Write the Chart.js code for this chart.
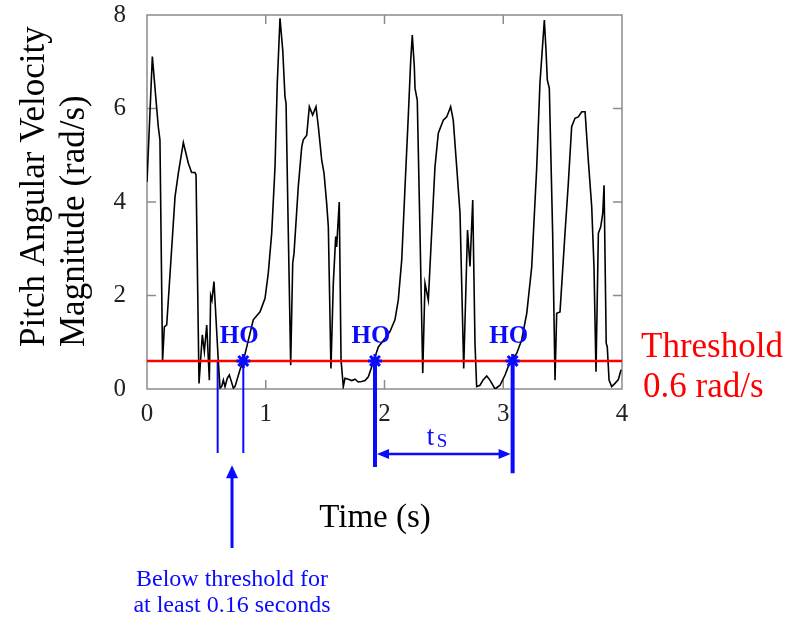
<!DOCTYPE html>
<html>
<head>
<meta charset="utf-8">
<script src="https://cdn.jsdelivr.net/npm/chart.js@4/dist/chart.umd.min.js"></script>
<style>
  html, body { margin: 0; padding: 0; background: #fff; }
  #wrap { width: 788px; height: 624px; }
</style>
</head>
<body>
<div id="wrap"><canvas id="chart" width="788" height="624"></canvas></div>
<script>
// pitch angular velocity trace
var timeS = [
  0.000, 0.045, 0.095, 0.109, 0.131, 0.146, 0.166, 0.236, 0.264, 0.306,
  0.348, 0.376, 0.404, 0.413, 0.438, 0.466, 0.483, 0.503, 0.525, 0.536,
  0.547, 0.564, 0.600, 0.615, 0.629, 0.643, 0.657, 0.676, 0.693, 0.707,
  0.727, 0.741, 0.783, 0.811, 0.840, 0.895, 0.952, 0.994, 1.021, 1.050,
  1.078, 1.097, 1.120, 1.143, 1.162, 1.171, 1.190, 1.210, 1.227, 1.238,
  1.274, 1.303, 1.316, 1.345, 1.367, 1.395, 1.423, 1.443, 1.471, 1.491,
  1.513, 1.527, 1.549, 1.569, 1.589, 1.597, 1.619, 1.634, 1.653, 1.667,
  1.695, 1.724, 1.752, 1.779, 1.808, 1.836, 1.864, 1.906, 1.948, 2.004,
  2.046, 2.088, 2.116, 2.145, 2.173, 2.200, 2.221, 2.234, 2.251, 2.257,
  2.276, 2.299, 2.322, 2.341, 2.369, 2.397, 2.425, 2.453, 2.495, 2.524,
  2.557, 2.579, 2.608, 2.636, 2.667, 2.699, 2.720, 2.743, 2.762, 2.776,
  2.804, 2.832, 2.861, 2.888, 2.931, 2.973, 3.015, 3.057, 3.113, 3.155,
  3.198, 3.240, 3.282, 3.309, 3.346, 3.360, 3.371, 3.388, 3.416, 3.436,
  3.450, 3.478, 3.520, 3.548, 3.576, 3.604, 3.632, 3.661, 3.689, 3.716,
  3.745, 3.764, 3.781, 3.801, 3.821, 3.838, 3.849, 3.867, 3.876, 3.891,
  3.913, 3.941, 3.969, 3.992
];
var pitchVel = [
  4.43, 7.11, 5.61, 5.33, 0.60, 1.33, 1.37, 4.11, 4.62, 5.27,
  4.83, 4.63, 4.63, 4.58, 0.12, 1.16, 0.80, 1.37, 0.19, 2.00,
  1.90, 2.30, 0.62, 0.02, 0.05, 0.19, 0.05, 0.23, 0.30, 0.19,
  0.02, 0.05, 0.41, 0.60, 0.90, 1.48, 1.65, 1.94, 2.47, 3.33,
  4.75, 6.54, 7.93, 7.25, 6.25, 6.11, 3.33, 0.51, 2.69, 2.90,
  4.33, 5.18, 5.33, 5.43, 6.04, 5.86, 6.04, 5.61, 4.90, 4.61,
  3.97, 3.47, 0.44, 2.26, 3.26, 3.04, 4.00, 0.62, 0.05, 0.23,
  0.21, 0.18, 0.21, 0.15, 0.16, 0.18, 0.26, 0.58, 0.90, 1.08,
  1.23, 1.48, 1.90, 2.76, 4.33, 5.82, 7.04, 7.57, 6.90, 6.43,
  6.18, 3.33, 0.34, 2.26, 1.90, 3.33, 4.75, 5.47, 5.75, 5.82,
  6.04, 5.75, 4.75, 3.76, 0.44, 3.40, 2.62, 4.04, 0.98, 0.05,
  0.08, 0.20, 0.28, 0.19, 0.00, 0.08, 0.30, 0.58, 0.76, 1.05,
  1.62, 2.62, 4.75, 6.54, 7.89, 7.25, 6.61, 6.43, 3.33, 0.19,
  1.62, 1.65, 3.33, 4.40, 5.61, 5.79, 5.82, 5.93, 5.93, 4.90,
  3.90, 2.62, 0.37, 3.33, 3.47, 3.76, 4.36, 0.98, 0.90, 0.19,
  0.05, 0.12, 0.20, 0.41
];

var threshold = 0.6;
var hoTimes = [0.811, 1.92, 3.079];   // heel-off instants
var belowStart = 0.595;               // start of the below-threshold window
var thinGuideEnd = -1.37;
var thickGuideEnds = [-1.67, -1.80];
var tsArrowY = -1.39;
var upArrowX = 0.716;
var upArrowTip = -1.63, upArrowTail = -3.40;

var serif = "'Liberation Serif', 'Times New Roman', serif";
var BLUE = '#0a0aff';
var RED = '#ff0000';

var trace = timeS.map(function (t, i) { return { x: t, y: pitchVel[i] }; });

function gap() { return { x: null, y: null }; }

// frame, inward ticks and the text labels
var decor = {
  id: 'decor',
  beforeDatasetsDraw: function (chart) {
    var ctx = chart.ctx, a = chart.chartArea;
    var xs = chart.scales.x, ys = chart.scales.y;
    ctx.save();
    ctx.strokeStyle = '#8c8c8c';
    ctx.lineWidth = 1.5;
    ctx.strokeRect(a.left, a.top, a.right - a.left, a.bottom - a.top);
    ctx.beginPath();
    [1, 2, 3].forEach(function (v) {
      var px = xs.getPixelForValue(v);
      ctx.moveTo(px, a.bottom); ctx.lineTo(px, a.bottom - 9);
      ctx.moveTo(px, a.top); ctx.lineTo(px, a.top + 9);
    });
    [2, 4, 6].forEach(function (v) {
      var py = ys.getPixelForValue(v);
      ctx.moveTo(a.left, py); ctx.lineTo(a.left + 9, py);
      ctx.moveTo(a.right, py); ctx.lineTo(a.right - 9, py);
    });
    ctx.stroke();
    ctx.restore();
  },
  afterDatasetsDraw: function (chart) {
    var ctx = chart.ctx;
    var xs = chart.scales.x, ys = chart.scales.y;
    ctx.save();

    // arrowheads
    ctx.fillStyle = BLUE;
    function head(x, y, dx, dy, len, half) {
      ctx.beginPath();
      ctx.moveTo(x, y);
      ctx.lineTo(x - dx * len - dy * half, y - dy * len + dx * half);
      ctx.lineTo(x - dx * len + dy * half, y - dy * len - dx * half);
      ctx.closePath();
      ctx.fill();
    }
    var ay = ys.getPixelForValue(tsArrowY);
    head(xs.getPixelForValue(hoTimes[1]) + 2, ay, -1, 0, 12, 5);
    head(xs.getPixelForValue(hoTimes[2]) - 2, ay, 1, 0, 12, 5);
    head(xs.getPixelForValue(upArrowX), ys.getPixelForValue(upArrowTip), 0, -1, 13, 6);

    // HO labels
    ctx.font = 'bold 25px ' + serif;
    ctx.textAlign = 'center';
    ctx.textBaseline = 'alphabetic';
    hoTimes.forEach(function (t) {
      ctx.fillText('HO', xs.getPixelForValue(t) - 4, ys.getPixelForValue(threshold) - 18);
    });

    // t_s label
    ctx.textAlign = 'left';
    ctx.font = '27px ' + serif;
    var tx = (xs.getPixelForValue(hoTimes[1]) + xs.getPixelForValue(hoTimes[2])) / 2 - 17;
    ctx.fillText('t', tx, 445);
    ctx.font = '19px ' + serif;
    ctx.fillText('S', tx + 10, 447);

    // below-threshold note
    ctx.font = '24px ' + serif;
    ctx.textAlign = 'center';
    var nx = xs.getPixelForValue(upArrowX);
    ctx.fillText('Below threshold for', nx, 586);
    ctx.fillText('at least 0.16 seconds', nx, 612);

    // threshold label
    ctx.fillStyle = RED;
    ctx.textAlign = 'left';
    ctx.font = '35px ' + serif;
    ctx.fillText('Threshold', 641, 357);
    ctx.fillText('0.6 rad/s', 643, 397);

    // axis titles
    ctx.fillStyle = '#000';
    ctx.font = '33px ' + serif;
    ctx.textAlign = 'center';
    ctx.fillText('Time (s)', 375, 527);

    ctx.translate(0, 347);
    ctx.rotate(-Math.PI / 2);
    ctx.textAlign = 'left';
    ctx.font = '35px ' + serif;
    ctx.fillText('Pitch Angular Velocity', 0, 44);
    ctx.fillText('Magnitude (rad/s)', 0, 84);
    ctx.restore();
  }
};

new Chart(document.getElementById('chart'), {
  type: 'line',
  data: {
    datasets: [
      {
        label: 'HO', order: 0,
        data: hoTimes.map(function (t) { return { x: t, y: threshold }; }),
        showLine: false, pointStyle: 'star', pointRadius: 7,
        pointBorderWidth: 3, borderColor: BLUE, backgroundColor: BLUE
      },
      {
        label: 'Threshold', order: 1,
        data: [{ x: 0, y: threshold }, { x: 4, y: threshold }],
        borderColor: RED, borderWidth: 2.5, pointRadius: 0
      },
      {
        label: 'Pitch angular velocity', order: 2,
        data: trace, borderColor: '#000', borderWidth: 1.6,
        pointRadius: 0, tension: 0
      },
      {
        label: 'thin guides', order: 3, clip: false, spanGaps: false,
        data: [
          { x: belowStart, y: threshold }, { x: belowStart, y: thinGuideEnd }, gap(),
          { x: hoTimes[0], y: threshold }, { x: hoTimes[0], y: thinGuideEnd }
        ],
        borderColor: BLUE, borderWidth: 2, pointRadius: 0
      },
      {
        label: 'thick guides', order: 3, clip: false, spanGaps: false,
        data: [
          { x: hoTimes[1], y: threshold }, { x: hoTimes[1], y: thickGuideEnds[0] }, gap(),
          { x: hoTimes[2], y: threshold }, { x: hoTimes[2], y: thickGuideEnds[1] }
        ],
        borderColor: BLUE, borderWidth: 4, pointRadius: 0
      },
      {
        label: 'ts arrow', order: 3, clip: false,
        data: [{ x: hoTimes[1] + 0.05, y: tsArrowY }, { x: hoTimes[2] - 0.05, y: tsArrowY }],
        borderColor: BLUE, borderWidth: 2.5, pointRadius: 0
      },
      {
        label: 'note arrow', order: 3, clip: false,
        data: [{ x: upArrowX, y: upArrowTail }, { x: upArrowX, y: upArrowTip - 0.2 }],
        borderColor: BLUE, borderWidth: 3, pointRadius: 0
      }
    ]
  },
  options: {
    responsive: false,
    animation: false,
    devicePixelRatio: 1,
    layout: { padding: { top: 15, right: 166, left: 0, bottom: 0 } },
    plugins: { legend: { display: false }, tooltip: { enabled: false } },
    scales: {
      x: {
        type: 'linear', min: 0, max: 4,
        grid: { display: false, drawTicks: false },
        border: { display: false },
        ticks: { stepSize: 1, padding: 10, color: '#222', font: { family: serif, size: 25 } },
        afterFit: function (s) {
          s.height = 235;
          s.paddingLeft = 0; s.paddingRight = 0;
        }
      },
      y: {
        type: 'linear', min: 0, max: 8,
        grid: { display: false, drawTicks: false },
        border: { display: false },
        ticks: { stepSize: 2, padding: 21, color: '#222', font: { family: serif, size: 25 } },
        afterFit: function (s) {
          s.width = 147;
          s.paddingTop = 0; s.paddingBottom = 0;
        }
      }
    }
  },
  plugins: [decor]
});
</script>
</body>
</html>
